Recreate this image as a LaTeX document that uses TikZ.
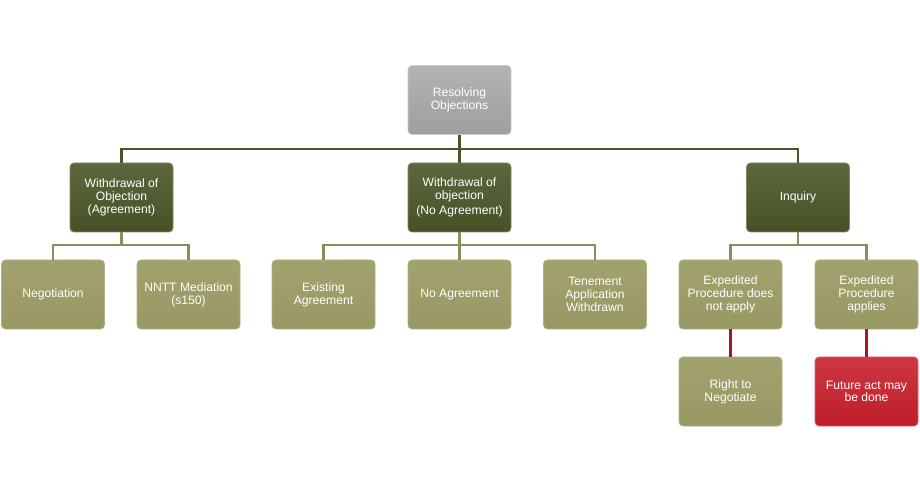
\documentclass[tikz,border=0pt]{standalone}
\usepackage{fontspec}
\setmainfont{Liberation Sans}
\begin{document}
\begin{tikzpicture}[x=1bp,y=-1bp,
  box/.style={rounded corners=4bp, minimum width=103bp, minimum height=69bp, inner sep=2bp,
    align=center, text=white, font=\fontsize{12.2}{12.8}\selectfont, draw=#1, line width=0.8bp},
  rootbox/.style={box=gray!40, top color=gray!60, bottom color=gray!75},
  darkbox/.style={box=olivedark!70!white, top color=olivedark!90!white, bottom color=olivedark!95!black},
  lightbox/.style={box=olivelight!80!white, top color=olivelight!95!white, bottom color=olivelight!97!black},
  redbox/.style={box=redc!70!white, top color=redc!90!white, bottom color=redc!95!black},
  darkline/.style={draw=olivedark, line width=2.6bp},
  lightline/.style={draw=olivelight!90!black, line width=2.2bp},
  redline/.style={draw=redl, line width=2.6bp}]
\definecolor{olivedark}{HTML}{4A5628}
\definecolor{olivelight}{HTML}{9C9D66}
\definecolor{redc}{HTML}{C8202C}
\definecolor{redl}{HTML}{9E1A2A}
\useasboundingbox (0,0) rectangle (920,493);
\coordinate (busA) at (459.5,149);
\coordinate (busB) at (121.5,245);
\coordinate (busC) at (459.5,245);
\coordinate (busD) at (798,245);
\node[rootbox] (root) at (459.5,100) {Resolving\\Objections};
\node[darkbox] (w1) at (121.5,197.5) {Withdrawal of\\Objection\\(Agreement)};
\node[darkbox] (w2) at (459.5,197.5) {Withdrawal of\\objection\\[3bp](No Agreement)};
\node[darkbox] (inq) at (798,197.5) {Inquiry};
\node[lightbox] (neg) at (53,294.5) {Negotiation};
\node[lightbox] (med) at (188.5,294.5) {NNTT Mediation\\(s150)};
\node[lightbox] (exa) at (323.5,294.5) {Existing\\Agreement};
\node[lightbox] (noa) at (459.5,294.5) {No Agreement};
\node[lightbox] (ten) at (595,294.5) {Tenement\\Application\\Withdrawn};
\node[lightbox] (edn) at (730.5,294.5) {Expedited\\Procedure does\\not apply};
\node[lightbox] (eda) at (866.5,294.5) {Expedited\\Procedure\\applies};
\node[lightbox] (rtn) at (730.5,391.5) {Right to\\Negotiate};
\node[redbox] (fut) at (866.5,391.5) {Future act may\\be done};
\draw[darkline] (root.south) -- (busA);
\draw[darkline] (w1.north) |- (busA) -| (inq.north);
\draw[darkline] (busA) -- (w2.north);
\draw[lightline] (w1.south) -- (busB);
\draw[lightline] (neg.north) |- (busB) -| (med.north);
\draw[lightline] (w2.south) -- (busC);
\draw[lightline] (exa.north) |- (busC) -| (ten.north);
\draw[lightline] (busC) -- (noa.north);
\draw[lightline] (inq.south) -- (busD);
\draw[lightline] (edn.north) |- (busD) -| (eda.north);
\draw[redline] (edn.south) -- (rtn.north);
\draw[redline] (eda.south) -- (fut.north);
\end{tikzpicture}
\end{document}
